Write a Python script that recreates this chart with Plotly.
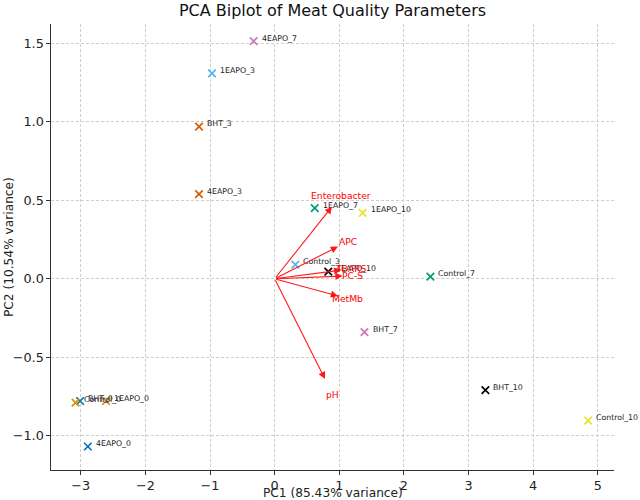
import plotly.graph_objects as go

# --- Sample scores (PC1, PC2) ---
samples = ["4EAPO_7", "1EAPO_3", "BHT_3", "4EAPO_3", "1EAPO_7", "1EAPO_10",
           "Control_3", "4EAPO_10", "Control_7", "BHT_7", "BHT_10", "Control_10",
           "BHT_0", "Control_0", "1EAPO_0", "4EAPO_0"]
pc1 = [-0.325, -0.97, -1.17, -1.17, 0.62, 1.36,
       0.32, 0.83, 2.41, 1.39, 3.26, 4.85,
       -3.01, -3.08, -2.61, -2.89]
pc2 = [1.516, 1.31, 0.97, 0.54, 0.45, 0.42,
       0.09, 0.045, 0.013, -0.34, -0.71, -0.905,
       -0.78, -0.79, -0.78, -1.07]
colors = ["#CC78BC", "#56B4E9", "#D55E00", "#D55E00", "#029E73", "#ECE133",
          "#56B4E9", "#000000", "#029E73", "#CC78BC", "#000000", "#ECE133",
          "#0173B2", "#DE8F05", "#DE8F05", "#0173B2"]

# --- Variable loadings ---
variables = ["Enterobacter", "APC", "TBARS", "PC-S", "MetMb", "pH"]
load1 = [0.887, 0.98, 1.03, 1.05, 0.98, 0.78]
load2 = [0.46, 0.205, 0.055, 0.017, -0.11, -0.64]
label_scale = 1.15

x_ticks = [-3, -2, -1, 0, 1, 2, 3, 4, 5]
y_ticks = [-1.0, -0.5, 0.0, 0.5, 1.0, 1.5]
y_ticklabels = ["\u22121.0", "\u22120.5", "0.0", "0.5", "1.0", "1.5"]
x_ticklabels = ["\u22123", "\u22122", "\u22121", "0", "1", "2", "3", "4", "5"]

FONT = "DejaVu Sans"
TXT = "#222222"

fig = go.Figure()
fig.add_trace(go.Scatter(
    x=pc1, y=pc2, mode="markers",
    marker=dict(symbol="x-thin", size=7.5, color=colors,
                line=dict(width=1.7, color=colors)),
    hoverinfo="text", text=samples, showlegend=False,
))

annotations = []
for name, x, y in zip(samples, pc1, pc2):
    annotations.append(dict(
        x=x, y=y, xref="x", yref="y", text=name, showarrow=False,
        xanchor="left", yanchor="middle", xshift=6, yshift=3,
        font=dict(family=FONT, size=7.8, color=TXT),
    ))

for name, lx, ly in zip(variables, load1, load2):
    annotations.append(dict(
        x=lx, y=ly, ax=0, ay=0, xref="x", yref="y", axref="x", ayref="y",
        text="", showarrow=True, arrowhead=2, arrowsize=1.3,
        arrowwidth=1.1, arrowcolor="#ff1a1a",
    ))
    annotations.append(dict(
        x=lx * label_scale, y=ly * label_scale, xref="x", yref="y",
        text=name, showarrow=False, xanchor="center", yanchor="middle",
        font=dict(family=FONT, size=9.2, color="#ff0000"),
    ))

# axis titles as paper annotations for precise placement
annotations.append(dict(
    text="PC1 (85.43% variance)", xref="paper", yref="paper",
    x=0.5, y=-22.5 / 446, xanchor="center", yanchor="middle", showarrow=False,
    font=dict(family=FONT, size=12.2, color=TXT),
))
annotations.append(dict(
    text="PC2 (10.54% variance)", xref="paper", yref="paper",
    x=-42 / 563, y=0.5, xanchor="center", yanchor="middle", showarrow=False,
    textangle=-90, font=dict(family=FONT, size=12.2, color=TXT),
))

fig.update_layout(
    width=640, height=500,
    margin=dict(l=51, r=26, t=24, b=30),
    paper_bgcolor="white", plot_bgcolor="white",
    font=dict(family=FONT, size=12, color=TXT),
    title=dict(text="PCA Biplot of Meat Quality Parameters",
               x=(51 + 614) / 2 / 640, xanchor="center",
               y=1 - 10 / 500, yanchor="middle",
               font=dict(family=FONT, size=16, color="#111111")),
    annotations=annotations,
)
common = dict(
    showgrid=True, gridcolor="#cfcfcf", gridwidth=0.8, griddash="3px,2px",
    zeroline=False, showline=True, linecolor="#333333", linewidth=1.2,
    ticks="outside", ticklen=3.5, tickcolor="#333333",
    tickfont=dict(family=FONT, size=12.8, color=TXT),
    automargin=False,
)
fig.update_xaxes(range=[-3.46, 5.25], tickvals=x_ticks, ticktext=x_ticklabels, **common)
fig.update_yaxes(range=[-1.22, 1.625], tickvals=y_ticks, ticktext=y_ticklabels, **common)

fig.write_html("out.html")
